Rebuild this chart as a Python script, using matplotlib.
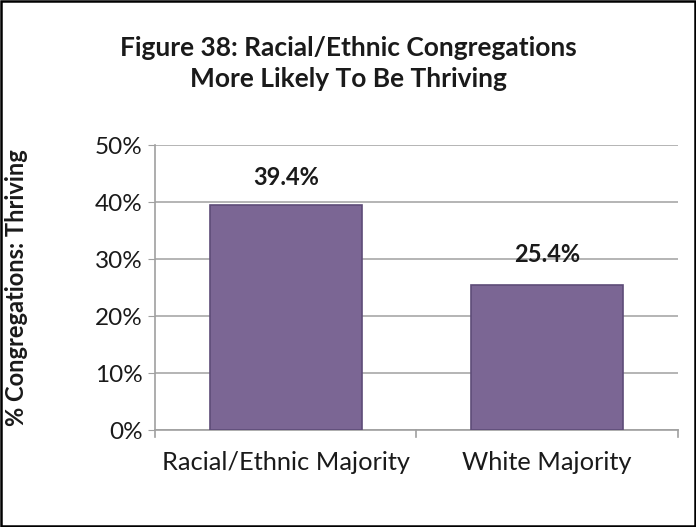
import matplotlib
matplotlib.use("Agg")
import matplotlib.pyplot as plt
from matplotlib.patches import Rectangle

CATEGORIES = ["Racial/Ethnic Majority", "White Majority"]
VALUES = [39.4, 25.4]
YTICKS = [0, 10, 20, 30, 40, 50]
TITLE = "Figure 38: Racial/Ethnic Congregations\nMore Likely To Be Thriving"
YLABEL = "% Congregations: Thriving"

plt.rcParams["font.family"] = ["Lato", "DejaVu Sans"]

fig = plt.figure(figsize=(6.96, 5.27), dpi=100)
ax = fig.add_axes([0.2227, 0.184, 0.7514, 0.5408])

x = range(len(CATEGORIES))
ax.bar(x, VALUES, width=0.58, color="#7b6694", edgecolor="#5e4c78", linewidth=1.2, zorder=3)

ax.set_xlim(-0.5, len(CATEGORIES) - 0.5)
ax.set_ylim(0, 50)
ax.set_yticks(YTICKS)
ax.set_yticklabels(["%d%%" % t for t in YTICKS], fontsize=17.5, color="#1a1a1a")
ax.set_xticks(list(x))
ax.set_xticklabels(CATEGORIES, fontsize=18.3, color="#1a1a1a")
ax.tick_params(axis="x", length=0, pad=15)
ax.tick_params(axis="y", length=5, color="#a0a0a0", pad=4)
# category boundary ticks on x axis
for b in [-0.5, 0.5, 1.5]:
    ax.plot([b, b], [0, -1.2], color="#a0a0a0", lw=1.2, clip_on=False)

ax.grid(axis="y", color="#a8a8a8", lw=1.2, zorder=0)
for s in ["top", "right"]:
    ax.spines[s].set_visible(False)
ax.spines["left"].set_color("#a0a0a0")
ax.spines["bottom"].set_color("#a0a0a0")
ax.spines["left"].set_linewidth(1.2)
ax.spines["bottom"].set_linewidth(1.2)

offsets = [20, 22]
for i, v in enumerate(VALUES):
    ax.annotate("%.1f%%" % v, (i, v), xytext=(0, offsets[i]), textcoords="offset points",
                ha="center", va="center", fontsize=17, fontweight="bold", color="#1a1a1a")

ax.set_ylabel(YLABEL, fontsize=17, fontweight="bold", color="#1a1a1a")
ax.yaxis.set_label_coords(-0.243, 0.5)
fig.text(0.5, 0.8795, TITLE, ha="center", va="center", fontsize=19,
         fontweight="bold", linespacing=1.38, color="#1a1a1a")

fig.patches.append(Rectangle((0.002, 0.002), 0.996, 0.996, transform=fig.transFigure,
                             fill=False, edgecolor="black", lw=1.8))

fig.savefig("out.png", dpi=100)
